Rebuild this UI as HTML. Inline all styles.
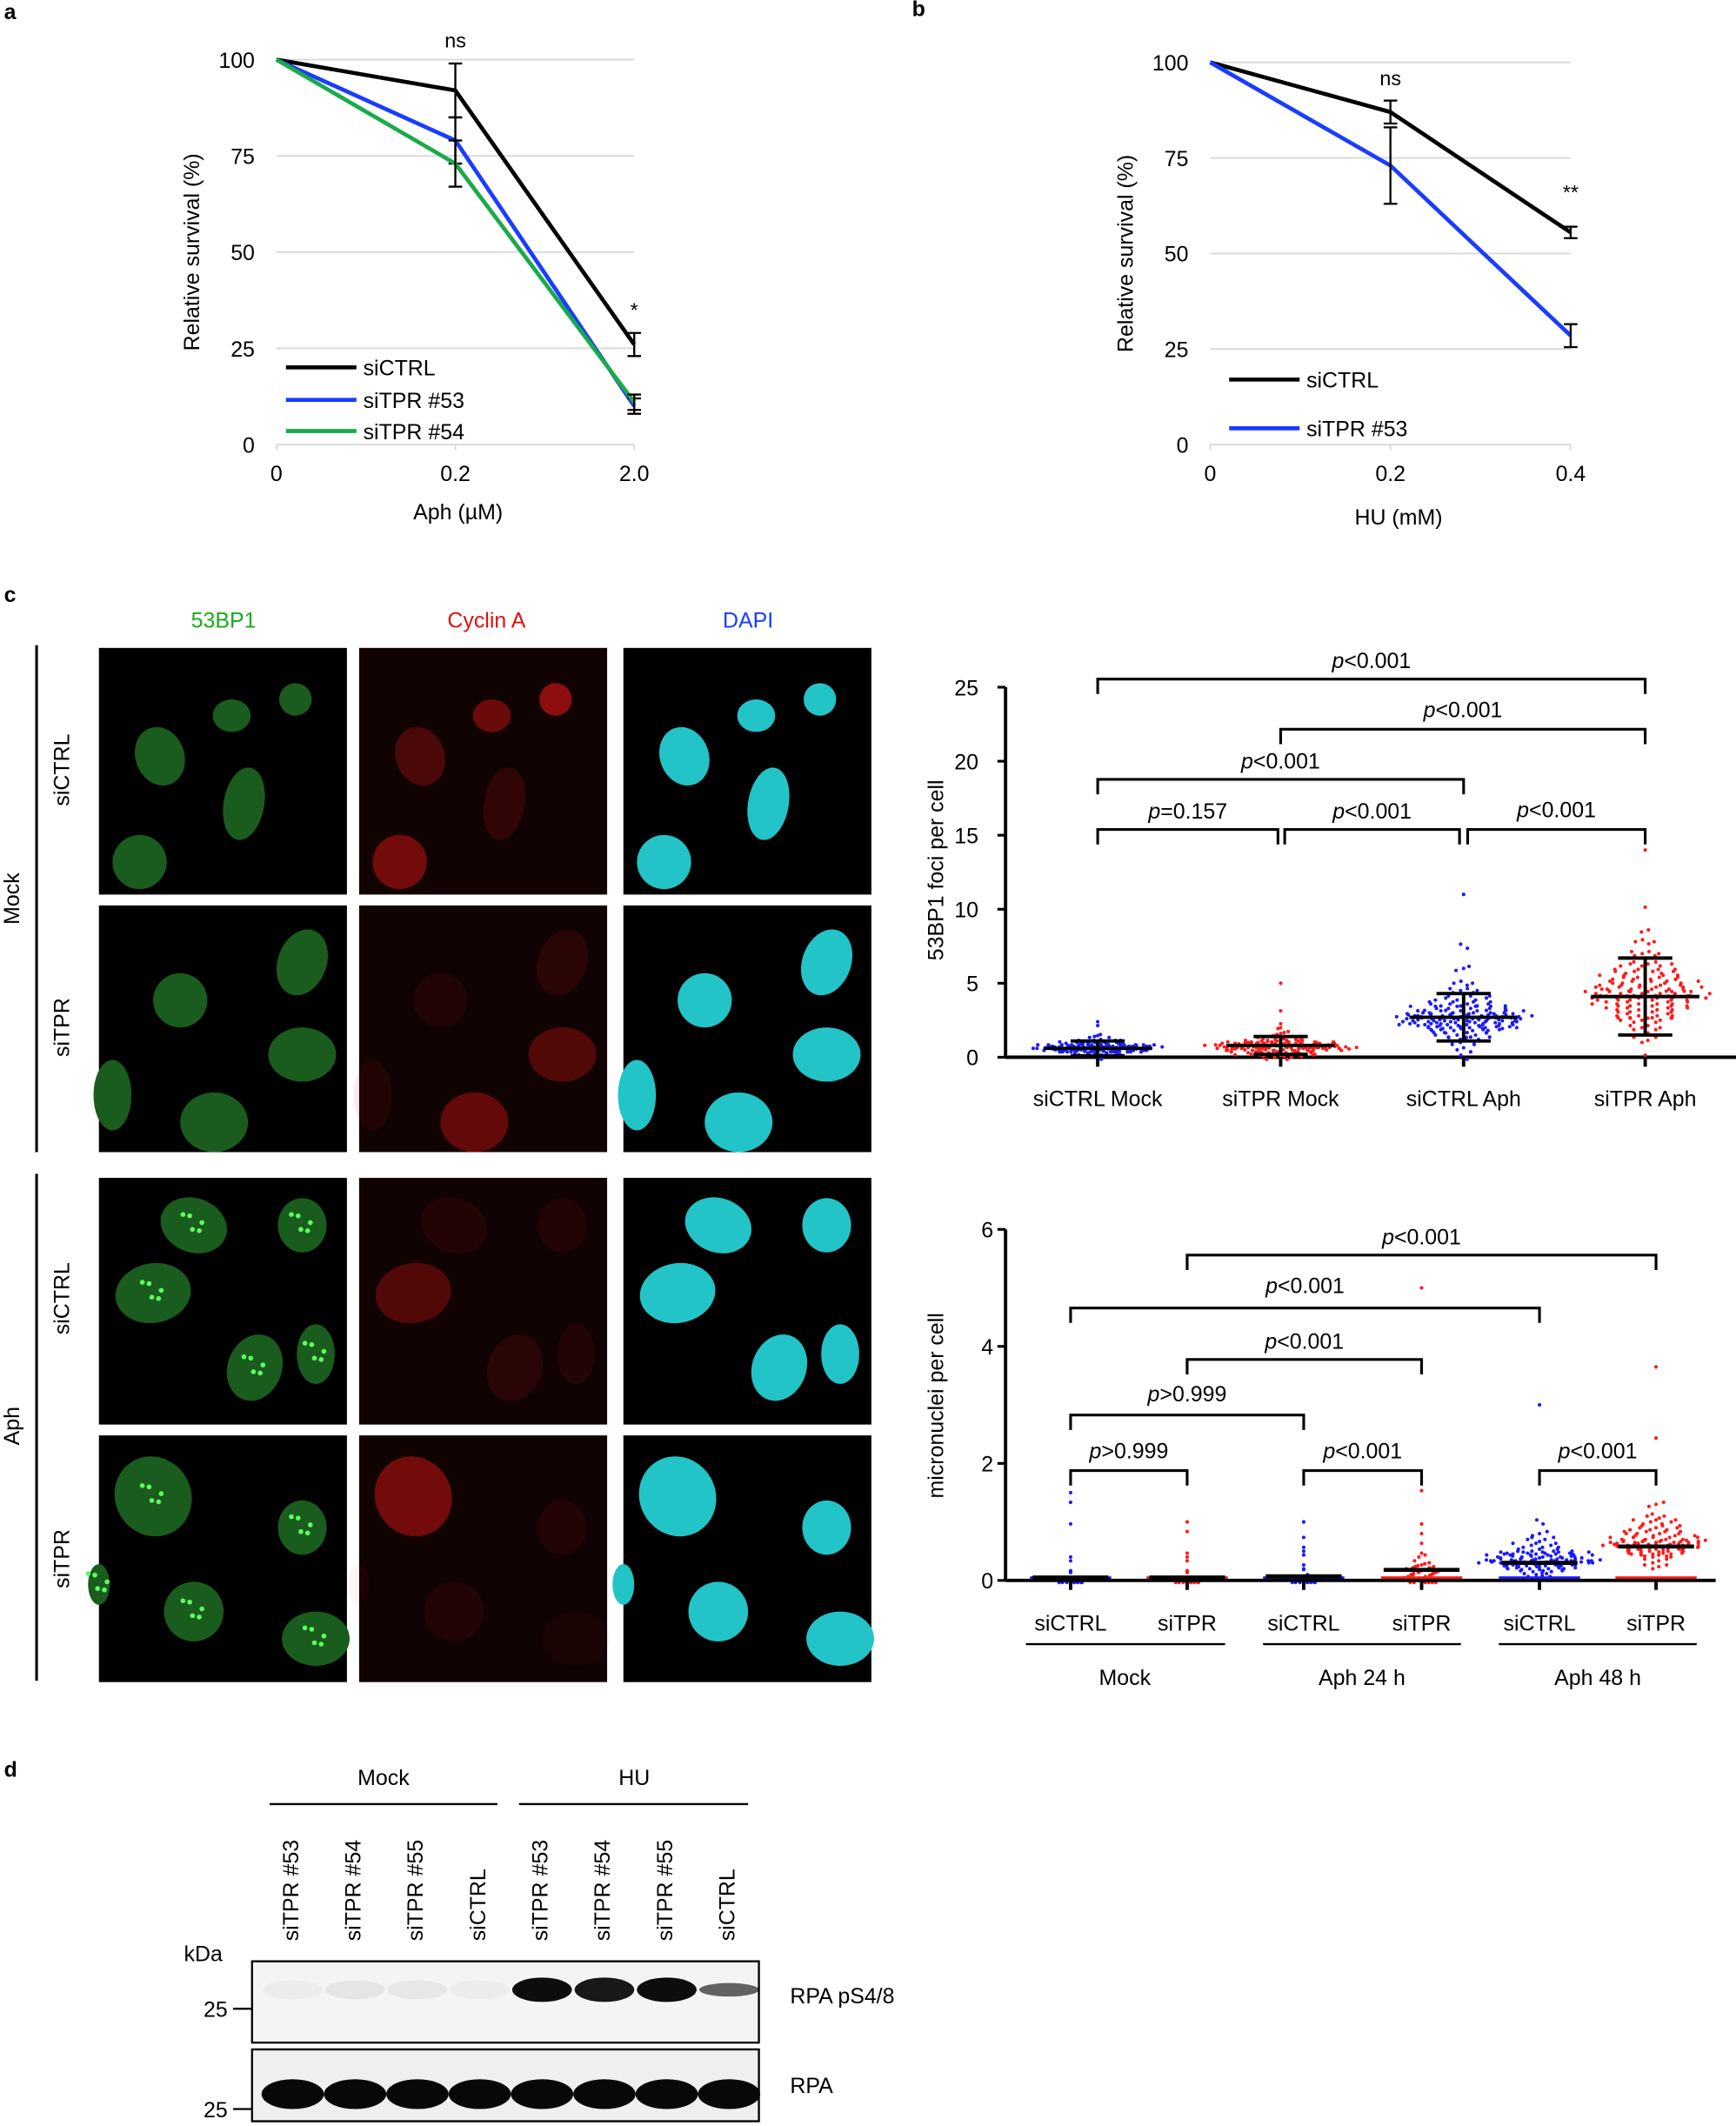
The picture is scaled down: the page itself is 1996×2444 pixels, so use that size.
<!DOCTYPE html>
<html><head><meta charset="utf-8"><style>
html,body{margin:0;padding:0;background:#fff}
svg{display:block}
text{font-family:"Liberation Sans",sans-serif;fill:#000}
</style></head><body>
<svg id="fig" width="1996" height="2444" viewBox="0 0 1281 1568.5" xmlns="http://www.w3.org/2000/svg">
<g font-size="16" font-weight="bold">
<text x="3" y="14">a</text>
<text x="673" y="12">b</text>
<text x="3" y="444">c</text>
<text x="3" y="1311">d</text>
</g>
<g id="pa"></g>
<g id="pb"></g>
<g id="pc"></g>
<g id="c1"></g>
<g id="c2"></g>
<g id="pd"></g>
</svg>
<script>
// ---- data ----
const aX = [0, 0.2, 2.0];
const aCtrl = [100, 92, 26];
const aCtrlErr = [0, 7, 3];
const a53 = [100, 79, 10];
const a53Err = [0, 6, 2];
const a54 = [100, 73, 11];
const a54Err = [0, 6, 2];
const bX = [0, 0.2, 0.4];
const bCtrl = [100, 87, 55.5];
const bCtrlErr = [0, 3, 1.5];
const b53 = [100, 73, 28.5];
const b53Err = [0, 10, 3];
const fociCats = ["siCTRL Mock", "siTPR Mock", "siCTRL Aph", "siTPR Aph"];
const fociMean = [0.6, 0.8, 2.7, 4.1];
const fociSD = [0.5, 0.6, 1.6, 2.6];
const fociQ1 = [0,0.1,0.2,0.3,0.4,0.5,0.5,0.6,0.6,0.7,0.7,0.8,0.9,1,1,1.2,1.4,1.6,2,2.4];
const fociQ2 = [0,0.2,0.3,0.5,0.6,0.6,0.7,0.8,0.8,0.9,1,1.1,1.2,1.4,1.6,1.8,2,2.4,3,5];
const fociQ3 = [0,0.5,1,1.2,1.5,1.8,2,2.2,2.4,2.6,2.8,3,3.3,3.6,4,4.5,5,6,7.5,11];
const fociQ4 = [0,1,1.5,2,2.5,2.8,3.2,3.6,4,4.3,4.6,5,5.4,5.8,6.3,7,7.8,8.6,10,14];
const fociTicks = [0,5,10,15,20,25];
const mnCats = ["siCTRL","siTPR","siCTRL","siTPR","siCTRL","siTPR"];
const mnMean = [0.05, 0.05, 0.07, 0.18, 0.3, 0.58];
const mnQ1 = [0,0,0,0,0,0,0,0,0.05,0.1,0.15,0.2,0.3,0.4,1,1.3,1.5];
const mnQ2 = [0,0,0,0,0,0,0,0,0.05,0.1,0.15,0.2,0.3,0.4,0.5,0.8,1];
const mnQ3 = [0,0,0,0,0,0,0,0.05,0.1,0.15,0.2,0.3,0.4,0.5,0.6,0.7,1];
const mnQ4 = [0,0,0,0,0.05,0.1,0.15,0.2,0.25,0.3,0.4,0.5,0.6,0.8,1,1.5,5];
const mnQ5 = [0,0.05,0.1,0.15,0.2,0.25,0.3,0.3,0.35,0.4,0.45,0.5,0.6,0.7,0.8,1,3];
const mnQ6 = [0,0.2,0.3,0.4,0.45,0.5,0.55,0.6,0.65,0.7,0.8,0.9,1,1.1,1.3,2.4,3.65];
const mnTicks = [0,2,4,6];

const NS="http://www.w3.org/2000/svg";
function el(parent, tag, attrs, txt){
  const e=document.createElementNS(NS,tag);
  for(const k in attrs) e.setAttribute(k,attrs[k]);
  if(txt!==undefined) e.textContent=txt;
  parent.appendChild(e); return e;
}
function line(p,x1,y1,x2,y2,st,w){return el(p,'line',{x1,y1,x2,y2,stroke:st||'#000','stroke-width':w||1.5});}

// ---- survival charts ----
function survival(gid, xs, xl, xr, yTop, yBot, xlabels, series, title, legendY, marks, tickX){
  const g=document.getElementById(gid);
  const sx=i=>xl+(xr-xl)*i/(xs.length-1);
  const sy=v=>yBot-(yBot-yTop)*v/100;
  [0,25,50,75,100].forEach(v=>{
    const l=line(g,xl,sy(v),xr,sy(v),'#d9d9d9',1.2);
     
    const t=el(g,'text',{x:tickX,y:sy(v)+6,'text-anchor':'end','font-size':16},v);
     
  });
  xs.forEach((x,i)=>{
    line(g,sx(i),yBot,sx(i),yBot+4,'#d9d9d9',1.2);
    const t=el(g,'text',{x:sx(i),y:yBot+27,'text-anchor':'middle','font-size':16},xlabels[i]);
     
  });
  series.forEach(s=>{
    const p=el(g,'polyline',{points:s.v.map((v,i)=>sx(i)+','+sy(v)).join(' '),fill:'none',stroke:s.c,'stroke-width':3});
     
    s.e.forEach((e,i)=>{ if(!e) return;
      line(g,sx(i),sy(s.v[i]+e),sx(i),sy(s.v[i]-e),'#000',1.5);
      line(g,sx(i)-5,sy(s.v[i]+e),sx(i)+5,sy(s.v[i]+e),'#000',1.5);
      line(g,sx(i)-5,sy(s.v[i]-e),sx(i)+5,sy(s.v[i]-e),'#000',1.5);
    });
  });
  series.forEach((s,i)=>{
    const lx=xl+7+(gid=='pb'?7:0), ly=legendY[i];
    line(g,lx,ly,lx+52,ly,s.c,3);
    const t=el(g,'text',{x:lx+57,y:ly+6,'font-size':16},s.label);
     
  });
  const yt=el(g,'text',{transform:`translate(${xl-57},${(yTop+yBot)/2}) rotate(-90)`,'text-anchor':'middle','font-size':16},'Relative survival (%)');
   
  const xt=el(g,'text',{x:(xl+xr)/2+title[1],y:title[2],'text-anchor':'middle','font-size':16},title[0]);
   
  marks.forEach(m=>{const t=el(g,'text',{x:sx(m[0]),y:m[1],'text-anchor':'middle','font-size':15},m[2]);
     });
}
survival('pa',aX,204,468,44,328,['0','0.2','2.0'],[
  {n:'sictrl',v:aCtrl,e:aCtrlErr,c:'#000',label:'siCTRL'},
  {n:'sitpr53',v:a53,e:a53Err,c:'#1a3cff',label:'siTPR #53'},
  {n:'sitpr54',v:a54,e:a54Err,c:'#1aaa4a',label:'siTPR #54'}],['Aph (µM)',2,383],[271,295,318],[[1,35,'ns'],[2,234,'*']],188);
survival('pb',bX,893,1159,46,328,['0','0.2','0.4'],[
  {n:'sictrl',v:bCtrl,e:bCtrlErr,c:'#000',label:'siCTRL'},
  {n:'sitpr53',v:b53,e:b53Err,c:'#1a3cff',label:'siTPR #53'}],['HU (mM)',6,387],[280,316],[[1,63,'ns'],[2,147,'**']],877);

// ---- microscopy ----
(function(){
  const g=document.getElementById('pc');
  const heads=[['53BP1','#1aaa1a',165],['Cyclin A','#e01010',359],['DAPI','#1a3cff',552]];
  heads.forEach(h=>{const t=el(g,'text',{x:h[2],y:463,'text-anchor':'middle','font-size':16,style:'fill:'+h[1]},h[0]);
     });
  const cols=[73,265,460], rows=[478,668,869,1059];
  const nuc=[
    [[45,80,18,22,-20],[98,50,14,12,0],[145,38,12,12,0],[107,115,15,27,10],[30,158,20,20,0]],
    [[60,70,20,20,0],[150,42,18,25,20],[85,160,25,22,0],[150,110,25,20,0],[10,140,14,26,0]],
    [[70,35,25,20,20],[150,35,18,20,0],[40,85,28,22,-10],[115,140,20,25,20],[160,130,14,22,0]],
    [[40,45,28,30,-30],[150,68,18,20,0],[70,130,22,22,0],[160,150,25,20,0],[0,110,8,15,0]]];
  const red=[[0.35,0.55,0.75,0.2,0.6],[0.1,0.15,0.5,0.4,0.1],[0.1,0.1,0.4,0.15,0.1],[0.6,0.1,0.1,0.05,0.05]];
  rows.forEach((ry,r)=>cols.forEach((cx,c)=>{
    const tg=el(g,'g',{transform:`translate(${cx},${ry})`});
     
    el(tg,'rect',{x:0,y:0,width:183,height:182,fill:c==1?'#120303':'#000'});
    nuc[r].forEach((n,k)=>{
      let fill = c==0?'#1a5c1e':c==1?`rgba(210,20,20,${red[r][k]*0.85})`:'#22c4c8';
      el(tg,'ellipse',{cx:n[0],cy:n[1],rx:n[2],ry:n[3],fill,transform:`rotate(${n[4]} ${n[0]} ${n[1]})`});
      if(c==0 && r>=2) for(let j=0;j<5;j++) el(tg,'circle',{cx:n[0]-8+(j*7)%16,cy:n[1]-8+(j*11)%16,r:1.8,fill:'#5cff5c'});
    });
  }));
  line(g,27,476,27,850,'#000',2); line(g,27,866,27,1240,'#000',2);
  [['Mock',663],['Aph',1052]].forEach(a=>{const t=el(g,'text',{transform:`translate(14,${a[1]}) rotate(-90)`,'text-anchor':'middle','font-size':16},a[0]);
     });
  [['siCTRL',568],['siTPR',758],['siCTRL',958],['siTPR',1150]].forEach(a=>{const t=el(g,'text',{transform:`translate(51,${a[1]}) rotate(-90)`,'text-anchor':'middle','font-size':16},a[0]);
     });
})();

// ---- dot plots ----
function dots(g,cx,vals,sy,col,width,peak){
  const N=vals.length;
  vals.forEach((v,i)=>{
    const d=(i-peak*N)/(0.28*N);
    const n=Math.max(1,Math.round(width/4*Math.exp(-d*d)));
    for(let k=0;k<n;k++){
      const off=(k-(n-1)/2)*4*(1+((i*7+k*3)%5)/10);
      const c=el(g,'circle',{cx:cx+off,cy:sy(v)+((k*5+i)%3-1)*1.5,r:1.3,fill:col});
       
    }
  });
}
function bracket(g,x1,x2,y,label,ty){
  const p=el(g,'polyline',{points:`${x1},${y+11} ${x1},${y} ${x2},${y} ${x2},${y+11}`,fill:'none',stroke:'#000','stroke-width':2});
   
  const t=el(g,'text',{x:(x1+x2)/2,y:ty,'text-anchor':'middle','font-size':16});
  el(t,'tspan',{'font-style':'italic'},'p'); el(t,'tspan',{},label);
   
}
(function(){
  const g=document.getElementById('c1');
  const y0=780, yPer=(780-507)/25, sy=v=>y0-v*yPer;
  const xs=[810,945,1080,1214], cols=['#1a1aff','#ff1a1a','#1a1aff','#ff1a1a'];
  const Q=[fociQ1,fociQ2,fociQ3,fociQ4], W=[75,85,80,70], P=[0.4,0.3,0.45,0.45];
  line(g,742,sy(25),742,y0,'#000',2.5); line(g,742,y0,1282,y0,'#000',2.5);
  fociTicks.forEach(v=>{line(g,736,sy(v),742,sy(v),'#000',2);
    const t=el(g,'text',{x:722,y:sy(v)+6,'text-anchor':'end','font-size':16},v);
     });
  xs.forEach((x,i)=>{
    dots(g,x,Q[i],sy,cols[i],W[i],P[i]);
    line(g,x,y0,x,y0+7,'#000',2.5);
    line(g,x-40,sy(fociMean[i]),x+40,sy(fociMean[i]),'#000',2.5);
    line(g,x,sy(fociMean[i]+fociSD[i]),x,sy(Math.max(0,fociMean[i]-fociSD[i])),'#000',2.5);
    line(g,x-20,sy(fociMean[i]+fociSD[i]),x+20,sy(fociMean[i]+fociSD[i]),'#000',2.5);
    line(g,x-20,sy(Math.max(0,fociMean[i]-fociSD[i])),x+20,sy(Math.max(0,fociMean[i]-fociSD[i])),'#000',2.5);
    const t=el(g,'text',{x,y:816,'text-anchor':'middle','font-size':16},fociCats[i]);
     
  });
  bracket(g,810,1214,501,'<0.001',493); bracket(g,945,1214,538,'<0.001',529);
  bracket(g,810,1080,575,'<0.001',567); bracket(g,810,943,612,'=0.157',604);
  bracket(g,948,1077,612,'<0.001',604); bracket(g,1083,1214,612,'<0.001',603);
  const yt=el(g,'text',{transform:'translate(696,642) rotate(-90)','text-anchor':'middle','font-size':16},'53BP1 foci per cell');
   
})();
(function(){
  const g=document.getElementById('c2');
  const y0=1166, yPer=(1166-907)/6, sy=v=>y0-v*yPer;
  const xs=[790,876,962,1049,1136,1222], cols=['#1a1aff','#ff1a1a','#1a1aff','#ff1a1a','#1a1aff','#ff1a1a'];
  const Q=[mnQ1,mnQ2,mnQ3,mnQ4,mnQ5,mnQ6], W=[16,16,16,24,70,60], P=[0.2,0.2,0.2,0.3,0.45,0.45];
  line(g,742,sy(6),742,y0,'#000',2.5);
  mnTicks.forEach(v=>{line(g,736,sy(v),742,sy(v),'#000',2);
    const t=el(g,'text',{x:733,y:sy(v)+6,'text-anchor':'end','font-size':16},v);
     });
  xs.forEach((x,i)=>{
    el(g,'rect',{x:x-30,y:y0-3,width:60,height:3,fill:cols[i]});
    dots(g,x,Q[i],sy,cols[i],W[i],P[i]);
    line(g,x,y0,x,y0+7,'#000',2.5);
    line(g,x-28,sy(mnMean[i]),x+28,sy(mnMean[i]),'#000',3);
    const t=el(g,'text',{x,y:1203,'text-anchor':'middle','font-size':16},mnCats[i]);
     
  });
  line(g,742,y0,1266,y0,'#000',2.5);
  bracket(g,876,1222,926,'<0.001',918); bracket(g,790,1136,965,'<0.001',954);
  bracket(g,876,1049,1003,'<0.001',995); bracket(g,790,962,1044,'>0.999',1034);
  bracket(g,790,876,1085,'>0.999',1076); bracket(g,962,1049,1085,'<0.001',1076); bracket(g,1136,1222,1085,'<0.001',1076);
  [[757,904,'Mock',830],[932,1078,'Aph 24 h',1005],[1106,1252,'Aph 48 h',1179]].forEach(a=>{
    line(g,a[0],1213,a[1],1213,'#000',1.5);
    const t=el(g,'text',{x:a[3],y:1243,'text-anchor':'middle','font-size':16},a[2]);
     });
  const yt=el(g,'text',{transform:'translate(696,1037) rotate(-90)','text-anchor':'middle','font-size':16},'micronuclei per cell');
   
})();

// ---- western blot ----
(function(){
  const g=document.getElementById('pd');
  [['Mock',283],['HU',468]].forEach(a=>{const t=el(g,'text',{x:a[1],y:1317,'text-anchor':'middle','font-size':16},a[0]);
     });
  line(g,199,1331,367,1331,'#000',1.5); line(g,383,1331,552,1331,'#000',1.5);
  const lanes=['siTPR #53','siTPR #54','siTPR #55','siCTRL','siTPR #53','siTPR #54','siTPR #55','siCTRL'];
  const lx=[214,260,306,352,398,444,490,536];
  const p48=[0.03,0.06,0.05,0.03,0.95,0.9,0.95,0.6];
  lanes.forEach((l,i)=>{const t=el(g,'text',{transform:`translate(${lx[i]+6},1432) rotate(-90)`,'font-size':16},l);
     });
  const kd=el(g,'text',{x:150,y:1447,'text-anchor':'middle','font-size':16},'kDa');  
  const b1=el(g,'rect',{x:186,y:1447,width:374,height:60,fill:'#f4f4f4',stroke:'#000','stroke-width':1.5});
   
  const b2=el(g,'rect',{x:186,y:1512,width:374,height:53,fill:'#efefef',stroke:'#000','stroke-width':1.5});
   
  lx.forEach((x,i)=>{
    el(g,'ellipse',{cx:x+2,cy:1468,rx:22,ry:i>=4?(i==7?5:9):7,fill:`rgba(0,0,0,${p48[i]})`});
    el(g,'ellipse',{cx:x+2,cy:1545,rx:23,ry:11,fill:'#080808'});
  });
  [[1488,'25'],[1562,'25']].forEach(a=>{const t=el(g,'text',{x:168,y:a[0],'text-anchor':'end','font-size':16},a[1]);
     
    line(g,172,a[0]-6,186,a[0]-6,'#000',1.5);});
  [['RPA pS4/8',1478],['RPA',1544]].forEach(a=>{const t=el(g,'text',{x:583,y:a[1],'font-size':16},a[0]);
     });
})();
</script>
</body></html>
